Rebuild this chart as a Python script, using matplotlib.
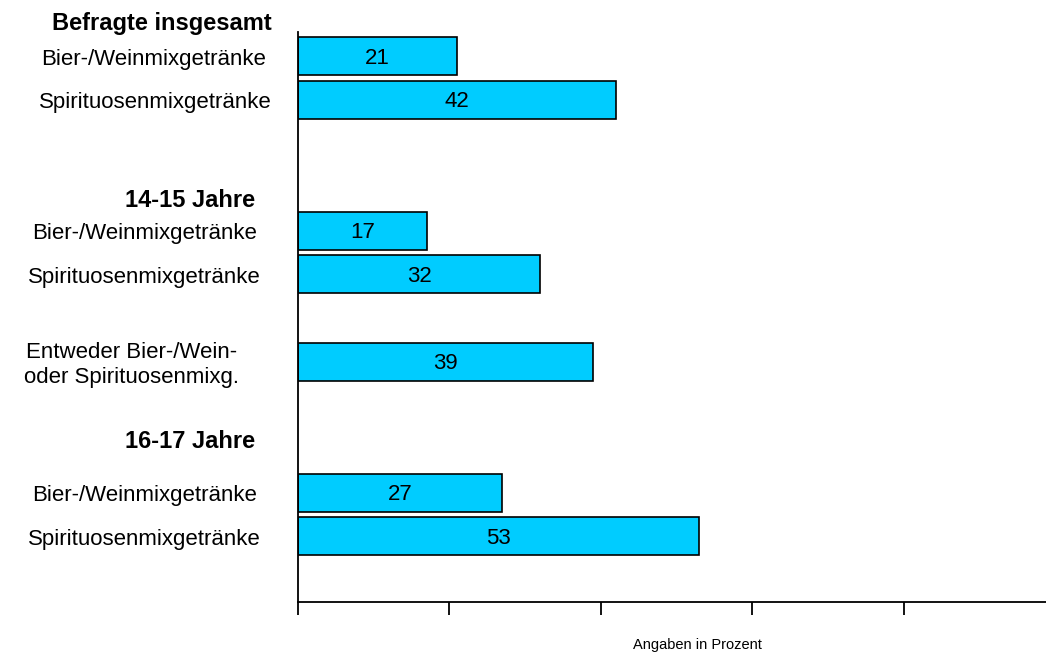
import matplotlib.pyplot as plt

plt.rcParams['font.family'] = ['Liberation Sans', 'DejaVu Sans']

# data
labels = ['Bier-/Weinmixgetränke', 'Spirituosenmixgetränke',
          'Bier-/Weinmixgetränke', 'Spirituosenmixgetränke',
          'Entweder Bier-/Wein-\noder Spirituosenmixg.',
          'Bier-/Weinmixgetränke', 'Spirituosenmixgetränke']
values = [21, 42, 17, 32, 39, 27, 53]
groups = ['Befragte insgesamt', '14-15 Jahre', '16-17 Jahre']

# layout (slot positions on the y axis, label centres in pixels)
bar_pos = [0, 1, 4, 5, 7, 10, 11]
group_pos = [-0.74, 3.3, 8.83]
label_x = [154, 155, 145, 144, 132, 145, 144]
group_x = [162, 190, 190]

fig = plt.figure(figsize=(10.46, 6.52), dpi=100)
W, H = 1046, 652
left, right = 298, 298 + 7.57 * 100
top, bottom = 32, 602
ax = fig.add_axes([left / W, 1 - bottom / H, (right - left) / W, (bottom - top) / H])

ax.barh(bar_pos, values, height=0.87, color='#00CCFF', edgecolor='black', linewidth=1.2)
for p, v in zip(bar_pos, values):
    ax.text(v / 2, p + 0.05, str(v), ha='center', va='center', fontsize=16)

ax.set_ylim(12.5, -0.55)
ax.set_xlim(0, 100)
ax.set_xticks([0, 20, 40, 60, 80, 100])
ax.set_xticklabels([])
ax.set_yticks([])
ax.tick_params(axis='x', direction='out', length=9, width=1.3)
for s in ['top', 'right']:
    ax.spines[s].set_visible(False)
for s in ['left', 'bottom']:
    ax.spines[s].set_linewidth(1.3)

for lab, p, x in zip(labels, bar_pos, label_x):
    ax.text(x / W, 1 - (59 + p * 43.7) / H, lab, transform=fig.transFigure,
            ha='center', va='center', fontsize=16, linespacing=1.2)
for g, p, x in zip(groups, group_pos, group_x):
    ax.text(x / W, 1 - (56 + p * 43.7) / H, g, transform=fig.transFigure,
            ha='center', va='center', fontsize=17, fontweight='bold')

fig.text(697 / W, 1 - 645 / H, 'Angaben in Prozent', ha='center', va='center', fontsize=10.5)

fig.savefig('out.png', dpi=100)
